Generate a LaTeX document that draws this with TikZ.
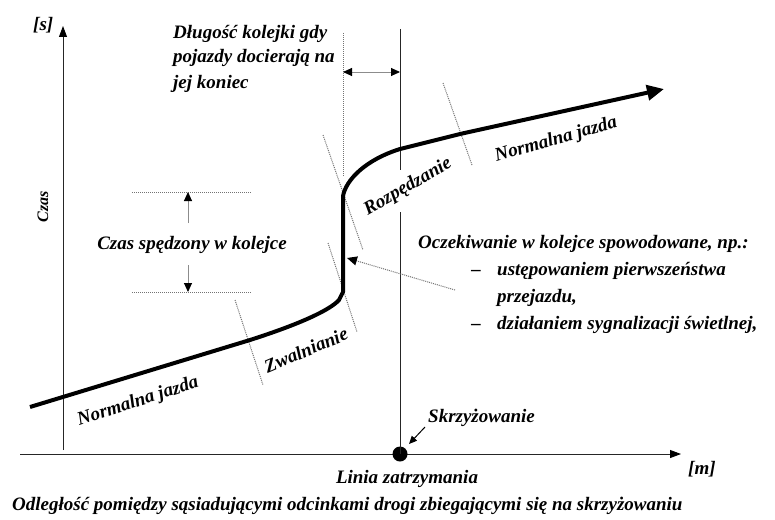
\documentclass[tikz,border=0pt]{standalone}
\usepackage{fontspec}
\setmainfont{Liberation Serif}
\usetikzlibrary{arrows.meta}
\tikzset{
  lbl/.style={font=\fontsize{19}{24}\selectfont\bfseries\itshape, inner sep=0pt},
  axisline/.style={line width=0.9pt, black!85, -{Triangle[length=11pt,width=8pt,color=black]}},
  plainline/.style={line width=0.9pt, black!85},
  dotline/.style={densely dotted, line width=1pt, black!55},
  guide/.style={line width=0.9pt, black!45, -{Triangle[length=9pt,width=8pt,color=black]}},
  dguide/.style={line width=0.9pt, black!45, {Triangle[length=9pt,width=8pt,color=black]}-{Triangle[length=9pt,width=8pt,color=black]}},
  dotguide/.style={densely dotted, line width=1pt, black!55, -{Triangle[length=10pt,width=9pt,color=black]}},
  pathline/.style={line width=4pt, black, line join=round, -{Triangle[length=17pt,width=15pt]}},
}
\begin{document}
\begin{tikzpicture}[x=1pt,y=-1pt]
\useasboundingbox (0,0) rectangle (775,519);

% axes
\coordinate (yb) at (63,450);
\coordinate (yt) at (63,26);
\coordinate (xl) at (20,454);
\coordinate (xr) at (681,454);
\draw[axisline] (yb) -- (yt);
\draw[axisline] (xl) -- (xr);

% stop line and intersection
\coordinate (s1) at (400,29);
\coordinate (s2) at (400,170);
\coordinate (s3) at (400,212);
\node[circle, fill=black, minimum size=15pt, inner sep=0pt] (dot) at (400,454) {};
\draw[plainline] (s1) -- (s2);
\draw[plainline] (s3) -- (dot.center);

% queue end
\coordinate (q1) at (343,33);
\coordinate (q2) at (343,176);
\draw[dotline] (q1) -- (q2);
\coordinate (qa) at (343,72);
\coordinate (qb) at (400,72);
\draw[dguide] (qa) -- (qb);

% dividers
\coordinate (d1a) at (235,300); \coordinate (d1b) at (263,385);
\coordinate (d2a) at (328,243); \coordinate (d2b) at (357,332);
\coordinate (d3a) at (323,135); \coordinate (d3b) at (363,250);
\coordinate (d4a) at (443,83);  \coordinate (d4b) at (472,165);
\draw[dotline] (d1a) -- (d1b);
\draw[dotline] (d2a) -- (d2b);
\draw[dotline] (d3a) -- (d3b);
\draw[dotline] (d4a) -- (d4b);

% trajectory
\coordinate (p0) at (30,407);
\coordinate (p1) at (250,340);
\coordinate (p2) at (343,292);
\coordinate (p3) at (343,196);
\coordinate (p4) at (460,134);
\coordinate (p5) at (664,89);
\draw[pathline] (p0) -- (p1) .. controls (300,324) and (330,310) .. (339,300) -- (p2) -- (p3)
  .. controls (346,180) and (365,160) .. (400,149) -- (p4) -- (p5);

% time in queue
\coordinate (h1a) at (132,192); \coordinate (h1b) at (252,192);
\coordinate (h2a) at (132,292); \coordinate (h2b) at (252,292);
\draw[dotline] (h1a) -- (h1b);
\draw[dotline] (h2a) -- (h2b);
\coordinate (u1) at (188,223); \coordinate (u2) at (188,192);
\coordinate (v1) at (188,265); \coordinate (v2) at (188,292);
\draw[guide] (u1) -- (u2);
\draw[guide] (v1) -- (v2);
\node[lbl] (czasq) at (192,245) {Czas spędzony w kolejce};

% labels
\node[lbl, anchor=base west] (s) at (33,31) {[s]};
\node[lbl, anchor=base west] (m) at (688,474) {[m]};
\node[lbl, rotate=90, font=\fontsize{16}{20}\selectfont\bfseries\itshape] (czas) at (43,207) {Czas};

\node[lbl, anchor=base west] (t1) at (173,39) {Długość kolejki gdy};
\node[lbl, anchor=base west] (t2) at (173,63) {pojazdy docierają na};
\node[lbl, anchor=base west] (t3) at (173,88) {jej koniec};

\node[lbl, rotate=18] (nj1) at (138,402) {Normalna jazda};
\node[lbl, rotate=23] (zw) at (306,350) {Zwalnianie};
\node[lbl, rotate=30] (rz) at (408,187) {Rozpędzanie};
\node[lbl, rotate=16] (nj2) at (556,140) {Normalna jazda};

\node[lbl, anchor=base west] (o1) at (418,248) {Oczekiwanie w kolejce spowodowane, np.:};
\node[lbl, anchor=base] (o2d) at (476,275) {–};
\node[lbl, anchor=base west] (o2) at (497,275) {ustępowaniem pierwszeństwa};
\node[lbl, anchor=base west] (o3) at (497,302) {przejazdu,};
\node[lbl, anchor=base] (o4d) at (476,329) {–};
\node[lbl, anchor=base west] (o4) at (497,329) {działaniem sygnalizacji świetlnej,};

\coordinate (wa) at (455,290);
\coordinate (wb) at (347,258);
\draw[dotguide] (wa) -- (wb);

\node[lbl, anchor=base west] (skrz) at (428,422) {Skrzyżowanie};
\coordinate (ka) at (425,427);
\coordinate (kb) at (409,444);
\draw[line width=1pt, -{Triangle[length=8pt,width=7pt]}] (ka) -- (kb);

\node[lbl, anchor=base] (linia) at (407,483) {Linia zatrzymania};
\node[lbl, anchor=base west] (cap) at (12,510) {Odległość pomiędzy sąsiadującymi odcinkami drogi zbiegającymi się na skrzyżowaniu};
\end{tikzpicture}
\end{document}
